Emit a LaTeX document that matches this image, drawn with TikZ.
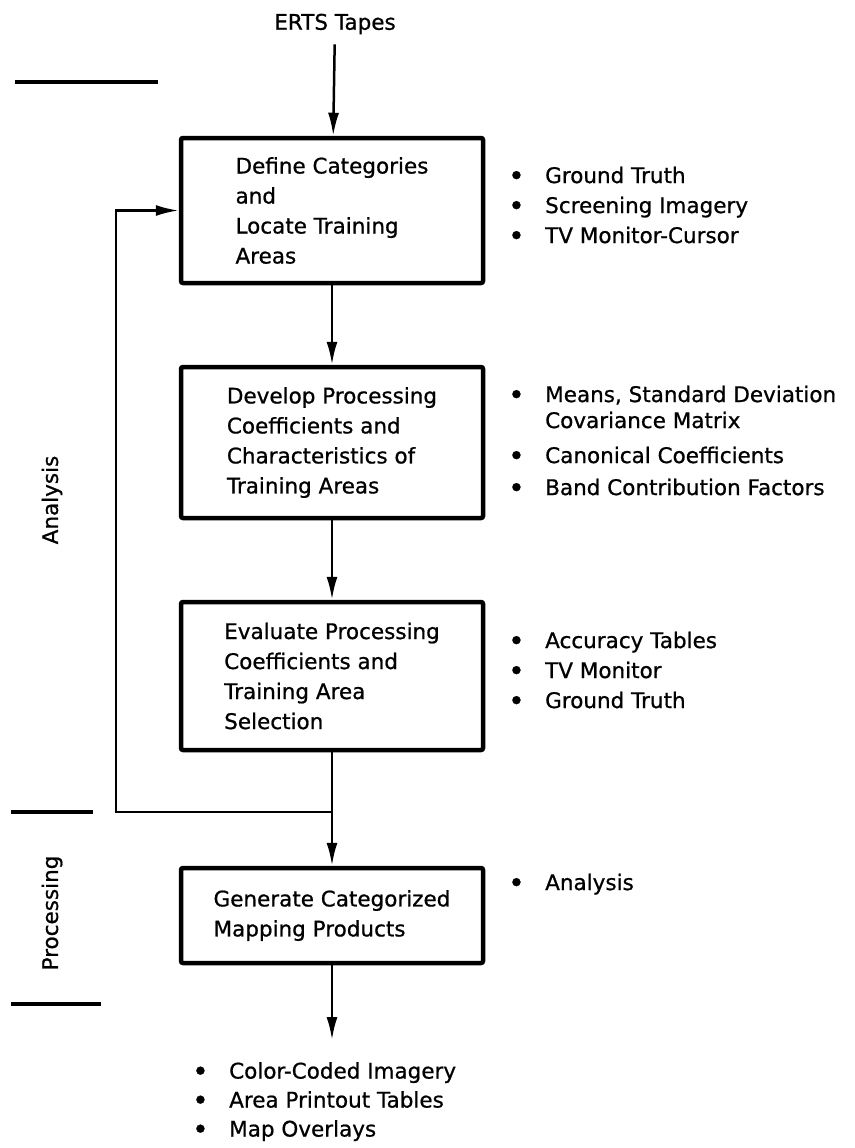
\documentclass[tikz,border=0pt]{standalone}
\usepackage{fontspec}
\setmainfont{DejaVu Sans}[FakeBold=0.8]
\usepackage{tikz}
\usetikzlibrary{arrows.meta}

\newcommand{\itm}{\makebox[37pt][l]{\raisebox{-2.5pt}{\scalebox{1.3}{\textbullet}}}}

\begin{document}
\begin{tikzpicture}[x=1pt, y=-1pt,
  font={\fontsize{21.5}{30}\selectfont},
  stepbox/.style={draw=black, line width=4.5pt, rounded corners=2pt, minimum width=302pt, align=left, inner sep=0pt},
  arr/.style={-{Latex[length=23pt,width=11pt]}, line width=2.5pt},
  divider/.style={line width=3.5pt},
  notes/.style={align=left, anchor=north west, inner sep=0pt}]
\useasboundingbox (0,0) rectangle (854,1148);

% Input tapes
\node[inner sep=10pt] (erts) at (335,24) {ERTS Tapes};

% Phase dividers and labels
\draw[divider] (15,82) -- (158,82);
\draw[divider] (11,812) -- (93,812);
\draw[divider] (11,1004) -- (101,1004);
\node[rotate=90] (analysis) at (52,500) {Analysis};
\node[rotate=90] (processing) at (52,913) {Processing};

% Main boxes
\node[stepbox, minimum height=145pt] (define) at (332,210.5) {Define Categories\\and\\Locate Training\\Areas};
\node[stepbox, minimum height=151pt] (develop) at (332,442.5) {Develop Processing\\Coefficients and\\Characteristics of\\Training Areas};
\node[stepbox, minimum height=148pt] (evaluate) at (332,676) {Evaluate Processing\\Coefficients and\\Training Area\\Selection};
\node[stepbox, minimum height=95pt] (generate) at (332,915.5) {Generate Categorized\\Mapping Products};

% Tools used at each step
\node[notes] (tools1) at (508,166.5) {\itm Ground Truth\\\itm Screening Imagery\\\itm TV Monitor-Cursor};
\node[notes] (tools2) at (508,385.5) {\itm Means, Standard Deviation\\[-4pt]\hspace*{37pt}Covariance Matrix\\[5pt]\itm Canonical Coefficients\\[2pt]\itm Band Contribution Factors};
\node[notes] (tools3) at (508,631.5) {\itm Accuracy Tables\\\itm TV Monitor\\\itm Ground Truth};
\node[notes] (tools4) at (508,873.5) {\itm Analysis};

% Products
\node[notes] (products) at (192,1062) {\itm Color-Coded Imagery\\[-1pt]\itm Area Printout Tables\\[-1pt]\itm Map Overlays};

% Flow
\coordinate (split) at (332,812);
\coordinate (loop) at (116,812);
\coordinate (out) at (332,1040);
\draw[arr] (erts) -- (define);
\draw[arr] (define) -- (develop);
\draw[arr] (develop) -- (evaluate);
\draw[arr] (evaluate) -- (generate);
\draw[arr] (split) -- (loop) |- (define.west);
\draw[arr] (generate) -- (out);
\end{tikzpicture}
\end{document}
